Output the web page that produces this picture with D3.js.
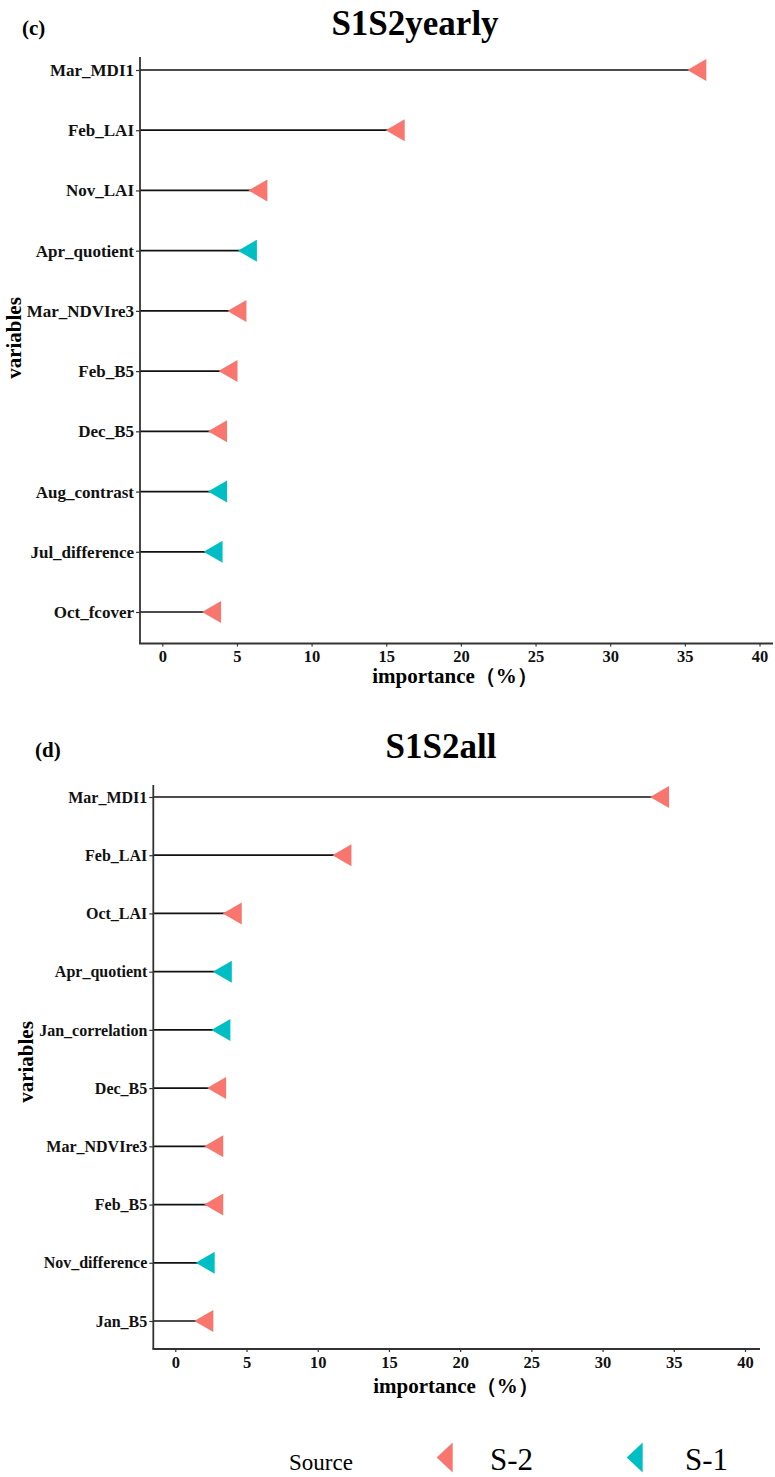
<!DOCTYPE html>
<html>
<head>
<meta charset="utf-8">
<script src="https://cdn.jsdelivr.net/npm/d3@7"></script>
<style>
  html, body { margin: 0; padding: 0; background: #fff; }
  svg { display: block; }
  text { font-family: "Liberation Serif", "Times New Roman", serif; }
</style>
</head>
<body>
<div id="chart"></div>
<script>
// ---- data ----
const topVars = ["Mar_MDI1","Feb_LAI","Nov_LAI","Apr_quotient","Mar_NDVIre3","Feb_B5","Dec_B5","Aug_contrast","Jul_difference","Oct_fcover"];
const topValues = [35.8, 15.6, 6.4, 5.7, 5.0, 4.4, 3.7, 3.7, 3.4, 3.3];
const topSource = ["S-2","S-2","S-2","S-1","S-2","S-2","S-2","S-1","S-1","S-2"];

const bottomVars = ["Mar_MDI1","Feb_LAI","Oct_LAI","Apr_quotient","Jan_correlation","Dec_B5","Mar_NDVIre3","Feb_B5","Nov_difference","Jan_B5"];
const bottomValues = [34.0, 11.7, 4.0, 3.3, 3.2, 2.9, 2.7, 2.7, 2.1, 2.0];
const bottomSource = ["S-2","S-2","S-2","S-1","S-1","S-2","S-2","S-2","S-1","S-2"];

const xTicks = [0, 5, 10, 15, 20, 25, 30, 35, 40];
const sources = ["S-2", "S-1"];
const sourceColors = ["#F8766D", "#00BFC4"];

const W = 775, H = 1477;
const FONT = "'Liberation Serif', 'Times New Roman', serif";
const svg = d3.select("#chart").append("svg").attr("width", W).attr("height", H);
const color = d3.scaleOrdinal().domain(sources).range(sourceColors);

function triPath(cx, cy, w, h) {
  const p = d3.path();
  p.moveTo(cx - w / 2, cy);
  p.lineTo(cx + w / 2, cy - h / 2);
  p.lineTo(cx + w / 2, cy + h / 2);
  p.closePath();
  return p.toString();
}

function drawPanel(cfg) {
  const g = svg.append("g");
  const x = d3.scaleLinear().domain([0, 40]).range(cfg.xRange);
  const y = d3.scalePoint().domain(cfg.vars).range(cfg.yRange);
  const data = cfg.vars.map((v, i) => ({ v, val: cfg.values[i], src: cfg.source[i] }));

  // panel letter & title
  g.append("text").attr("x", cfg.letterPos[0]).attr("y", cfg.letterPos[1])
    .attr("font-size", 21).attr("font-weight", "bold").text(cfg.letter);
  g.append("text").attr("x", cfg.titlePos[0]).attr("y", cfg.titlePos[1])
    .attr("text-anchor", "middle").attr("font-size", 35).attr("font-weight", "bold").text(cfg.title);

  // segments
  g.selectAll("line.seg").data(data).enter().append("line")
    .attr("x1", cfg.panelLeft).attr("x2", d => x(d.val))
    .attr("y1", d => y(d.v)).attr("y2", d => y(d.v))
    .attr("stroke", "#111").attr("stroke-width", 1.7);

  // triangles
  g.selectAll("path.tri").data(data).enter().append("path")
    .attr("d", d => triPath(x(d.val), y(d.v), 19, 22))
    .attr("fill", d => color(d.src));

  // y axis
  const ya = g.append("g").attr("transform", `translate(${cfg.panelLeft},0)`)
    .call(d3.axisLeft(y).tickSize(4).tickPadding(2));
  ya.attr("font-family", FONT);
  ya.select(".domain").remove();
  ya.selectAll(".tick line").attr("stroke", "#333").attr("stroke-width", 1.2);
  ya.selectAll(".tick text")
    .attr("font-size", cfg.labelSize).attr("font-weight", "bold").attr("fill", "#111");

  // x axis
  const xa = g.append("g").attr("transform", `translate(0,${cfg.panelBottom})`)
    .call(d3.axisBottom(x).tickValues(xTicks).tickSize(3).tickPadding(4));
  xa.attr("font-family", FONT);
  xa.select(".domain").remove();
  xa.selectAll(".tick line").attr("stroke", "#333").attr("stroke-width", 1.2);
  xa.selectAll(".tick text")
    .attr("font-size", 16.5).attr("font-weight", "bold").attr("fill", "#111");

  // axis lines
  g.append("line").attr("x1", cfg.panelLeft).attr("x2", cfg.panelLeft)
    .attr("y1", cfg.panelTop).attr("y2", cfg.panelBottom)
    .attr("stroke", "#333").attr("stroke-width", 1.8);
  g.append("line").attr("x1", cfg.panelLeft - 0.9).attr("x2", cfg.panelRight)
    .attr("y1", cfg.panelBottom).attr("y2", cfg.panelBottom)
    .attr("stroke", "#333").attr("stroke-width", 1.8);

  // axis titles
  g.append("text").attr("x", cfg.xTitlePos[0]).attr("y", cfg.xTitlePos[1])
    .attr("text-anchor", "middle").attr("font-size", 21).attr("font-weight", "bold")
    .text("importance（%）");
  g.append("text")
    .attr("transform", `translate(${cfg.yTitlePos[0]},${cfg.yTitlePos[1]}) rotate(-90)`)
    .attr("text-anchor", "middle").attr("font-size", 21).attr("font-weight", "bold")
    .text("variables");
}

drawPanel({
  vars: topVars, values: topValues, source: topSource,
  xRange: [162.3, 759.5], yRange: [70, 612], labelSize: 17,
  panelLeft: 140, panelRight: 773, panelTop: 57, panelBottom: 643.5,
  letter: "(c)", letterPos: [22, 35], title: "S1S2yearly", titlePos: [415, 35],
  xTitlePos: [455, 683], yTitlePos: [21, 338]
});

drawPanel({
  vars: bottomVars, values: bottomValues, source: bottomSource,
  xRange: [175.3, 745], yRange: [797, 1321], labelSize: 16,
  panelLeft: 153.3, panelRight: 760, panelTop: 785, panelBottom: 1349,
  letter: "(d)", letterPos: [35, 757], title: "S1S2all", titlePos: [441, 758],
  xTitlePos: [456, 1393], yTitlePos: [33, 1062]
});

// legend
const lg = svg.append("g");
lg.append("text").attr("x", 289).attr("y", 1470).attr("font-size", 23).text("Source");
sources.forEach((s, i) => {
  const tx = [444.7, 634.7][i];
  lg.append("path").attr("d", triPath(tx, 1457.5, 16, 30)).attr("fill", color(s));
  lg.append("text").attr("x", [490, 685][i]).attr("y", 1470).attr("font-size", 31).text(s);
});
</script>
</body>
</html>
